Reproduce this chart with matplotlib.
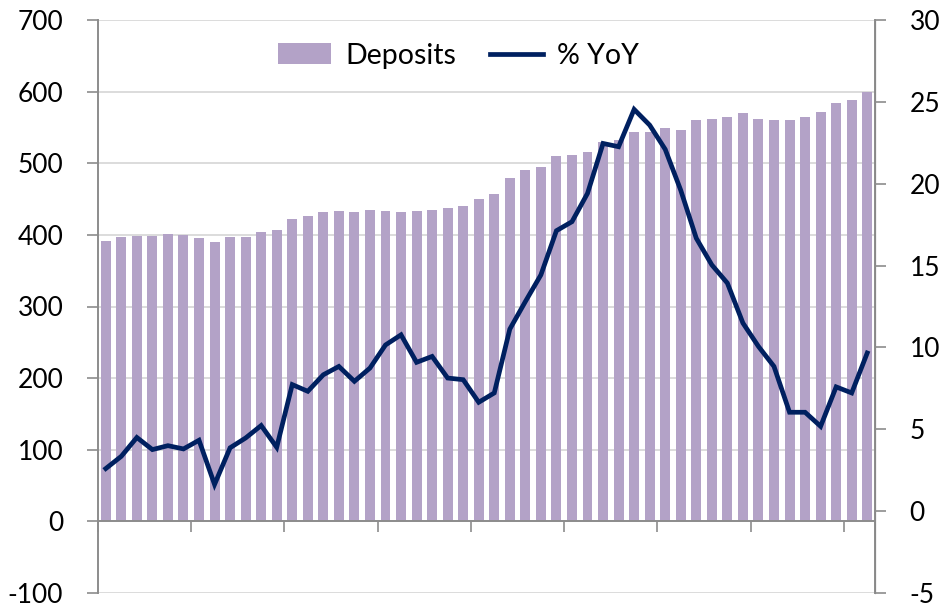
import numpy as np
import matplotlib
matplotlib.use("Agg")
import matplotlib.pyplot as plt
from matplotlib.ticker import FixedLocator

plt.rcParams['font.family'] = ['Lato', 'DejaVu Sans']
plt.rcParams['axes.unicode_minus'] = False

# Deposits (left axis) and % YoY (right axis), 50 periods
deposits = [392, 397, 399, 398, 401, 400, 395, 390, 397, 397,
            404, 407, 422, 427, 432, 434, 432, 435, 434, 432,
            433, 435, 437, 440, 450, 457, 479, 490, 495, 510,
            511, 516, 530, 532, 544, 543, 549, 546, 560, 562,
            564, 570, 562, 561, 561, 564, 572, 584, 588, 599]
yoy = [2.6, 3.35, 4.5, 3.76, 4.0, 3.8, 4.33, 1.63, 3.87, 4.47,
       5.23, 3.9, 7.73, 7.32, 8.33, 8.84, 7.93, 8.74, 10.15, 10.77,
       9.09, 9.45, 8.13, 8.03, 6.65, 7.22, 11.12, 12.8, 14.43, 17.13,
       17.68, 19.41, 22.46, 22.26, 24.54, 23.58, 22.1, 19.6, 16.67, 15.04,
       13.93, 11.49, 10.06, 8.84, 6.04, 6.04, 5.18, 7.59, 7.22, 9.66]

bar_color = '#b3a2c7'
line_color = '#002060'
axis_gray = '#8c8c8c'
grid_gray = '#d9d9d9'

x = np.arange(len(deposits))

fig = plt.figure(figsize=(9.41, 6.09), dpi=100)
ax = fig.add_axes([98 / 941, 1 - 593 / 609, 777 / 941, 573 / 609])
ax2 = ax.twinx()

bars = ax.bar(x, deposits, width=0.64, color=bar_color, zorder=2, label='Deposits')
ax.set_xlim(-0.5, len(x) - 0.5)
ax.set_ylim(-100, 700)
ax.set_yticks(range(-100, 701, 100))
ax.yaxis.grid(True, color=grid_gray, linewidth=1.3, zorder=0)
ax.set_axisbelow(True)

# category axis sits at zero, ticks every 6 bars
ax.spines['bottom'].set_position(('data', 0))
ax.spines['bottom'].set_color(axis_gray)
ax.spines['bottom'].set_linewidth(1.4)
ax.spines['bottom'].set_zorder(3)
ax.xaxis.set_major_locator(FixedLocator(np.arange(-0.5, len(x), 6)))
ax.tick_params(axis='x', direction='out', length=8, width=1.2, color=axis_gray,
               labelbottom=False)
ax.spines['top'].set_visible(False)
ax.spines['left'].set_color(axis_gray)
ax.spines['left'].set_linewidth(1.4)
ax.tick_params(axis='y', direction='out', length=8, width=1.2, color=axis_gray,
               labelsize=19, pad=17)

line, = ax2.plot(x, yoy, color=line_color, linewidth=3.4, label='% YoY',
                 solid_joinstyle='miter', zorder=4)
ax2.set_ylim(-5, 30)
ax2.set_yticks(range(-5, 31, 5))
ax2.tick_params(axis='y', direction='out', length=8, width=1.2, color=axis_gray,
                labelsize=19, pad=17)
for s in ['top', 'bottom', 'left']:
    ax2.spines[s].set_visible(False)
ax2.spines['right'].set_color(axis_gray)
ax2.spines['right'].set_linewidth(1.4)

ax.legend([bars, line], ['Deposits', '% YoY'], loc='upper center',
          bbox_to_anchor=(0.464, 1.005), ncol=2, frameon=False, fontsize=20.5,
          handlelength=1.85, handleheight=0.75, columnspacing=1.2, handletextpad=0.5)

fig.savefig('out.png', dpi=100)
